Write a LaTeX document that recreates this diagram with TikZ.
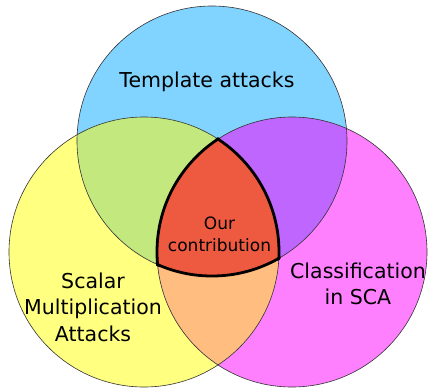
\documentclass[tikz,border=0pt]{standalone}
\usepackage{fontspec}
\setmainfont{DejaVu Sans}
\usepackage{tikz}

\definecolor{bleu}{HTML}{80D4FF}
\definecolor{jaune}{HTML}{FFFF80}
\definecolor{magenta2}{HTML}{FF80FF}
\definecolor{vert}{HTML}{C2E87E}
\definecolor{violet2}{HTML}{BF66FF}
\definecolor{orange2}{HTML}{FFBE80}
\definecolor{rouge}{HTML}{EE5A40}

\newcommand{\rayon}{135pt}

\tikzset{
  bord/.style = {draw=black!80, line width=0.6pt},
  bordgras/.style = {draw=black, line width=2.8pt},
  texte/.style = {align=center, inner sep=0pt, font=\fontsize{20.5}{26.5}\selectfont},
  petit/.style = {align=center, inner sep=0pt, font=\fontsize{17}{22}\selectfont}
}

\begin{document}
\begin{tikzpicture}[x=1pt, y=-1pt]

\useasboundingbox (0,0) rectangle (428,389);

\coordinate (T) at (212,141);
\coordinate (L) at (144,252);
\coordinate (R) at (292,252);

\fill [bleu] (T) circle[radius=\rayon];
\fill [jaune] (L) circle[radius=\rayon];
\fill [magenta2] (R) circle[radius=\rayon];

\begin{scope}
\clip (T) circle[radius=\rayon];
\fill [vert] (L) circle[radius=\rayon];
\fill [violet2] (R) circle[radius=\rayon];
\end{scope}
\begin{scope}
\clip (L) circle[radius=\rayon];
\fill [orange2] (R) circle[radius=\rayon];
\end{scope}
\begin{scope}
\clip (T) circle[radius=\rayon];
\clip (L) circle[radius=\rayon];
\fill [rouge] (R) circle[radius=\rayon];
\end{scope}

\draw [bord] (T) circle[radius=\rayon];
\draw [bord] (L) circle[radius=\rayon];
\draw [bord] (R) circle[radius=\rayon];

% contour of the centre
\begin{scope}
\clip (L) circle[radius=136.5pt];
\clip (R) circle[radius=136.5pt];
\draw [bordgras] (T) circle[radius=\rayon];
\end{scope}
\begin{scope}
\clip (T) circle[radius=136.5pt];
\clip (R) circle[radius=136.5pt];
\draw [bordgras] (L) circle[radius=\rayon];
\end{scope}
\begin{scope}
\clip (T) circle[radius=136.5pt];
\clip (L) circle[radius=136.5pt];
\draw [bordgras] (R) circle[radius=\rayon];
\end{scope}

\draw (207,82) node[texte] (template) {Template attacks};
\draw (93,307) node[texte] (scalar) {Scalar\\Multiplication\\Attacks};
\draw (358,284) node[texte] (classif) {Classification\\in SCA};
\draw (219.5,234) node[petit] (contrib) {Our\\contribution};

\end{tikzpicture}
\end{document}
